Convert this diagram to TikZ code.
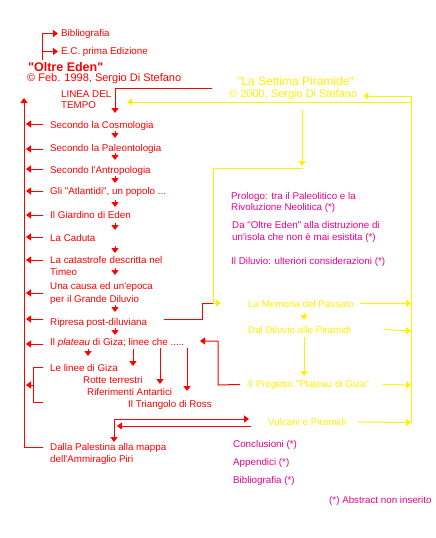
\documentclass[tikz,border=0pt]{standalone}
\usepackage{fontspec}
\setmainfont{Liberation Sans}[Ligatures=TeXOff]
\usetikzlibrary{arrows.meta}
\newcommand\fs{\fontsize{9.8}{12}\selectfont}
\newcommand\twol[3][12pt]{\vtop{\baselineskip=#1\hbox{#2}\hbox{#3}}}
\tikzset{
  t/.style={inner sep=0pt, anchor=base west, font=\fs},
  rt/.style={t, text=red},
  yt/.style={t, text=yellow},
  mt/.style={t, text=magenta},
  rl/.style={draw=red, line width=1pt},
  ra/.style={rl, -{Triangle[length=5pt,width=7pt]}},
  yl/.style={draw=yellow, line width=1pt},
  ya/.style={yl, -{Triangle[length=5pt,width=7pt]}},
}
\begin{document}
\begin{tikzpicture}[x=1pt,y=-1pt]
\useasboundingbox[fill=white] (0,0) rectangle (436,538);
% ---------- red (left) texts
\node[rt] (bib) at (61,36) {Bibliografia};
\node[rt] (ec) at (61,54) {E.C. prima Edizione};
\node[rt, font=\fontsize{12.5}{15}\selectfont\bfseries] (oe) at (28,71) {"Oltre Eden"};
\node[rt, font=\fontsize{11}{13}\selectfont] (cp1) at (27,81.5) {© Feb. 1998, Sergio Di Stefano};
\node[rt] (linea) at (61,97) {\twol[11pt]{LINEA DEL}{TEMPO}};
\node[rt] (c1) at (50,128) {Secondo la Cosmologia};
\node[rt] (c2) at (50,151) {Secondo la Paleontologia};
\node[rt] (c3) at (50,173) {Secondo l'Antropologia};
\node[rt] (c4) at (50,194) {Gli "Atlantidi", un popolo ...};
\node[rt] (c5) at (50,218) {Il Giardino di Eden};
\node[rt] (c6) at (50,241) {La Caduta};
\node[rt] (c7) at (50,263) {\twol{La catastrofe descritta nel}{Timeo}};
\node[rt] (c8) at (50,289) {\twol[13pt]{Una causa ed un'epoca}{per il Grande Diluvio}};
\node[rt] (c9) at (50,325) {Ripresa post-diluviana};
\node[rt] (c10) at (50,345) {Il \textit{plateau} di Giza; linee che .....};
\node[rt] (l1) at (50,371) {Le linee di Giza};
\node[rt] (l2) at (83,383) {Rotte terrestri};
\node[rt] (l3) at (87,395) {Riferimenti Antartici};
\node[rt] (l4) at (128,407) {Il Triangolo di Ross};
\node[rt] (pal) at (50,450) {\twol{Dalla Palestina alla mappa}{dell'Ammiraglio Piri}};
% ---------- yellow / magenta (right) texts
\node[yt, font=\fontsize{12}{14}\selectfont] (sp) at (237,85.5) {"La Settima Piramide"};
\node[yt, font=\fontsize{11}{13}\selectfont] (cp2) at (229,97.5) {© 2000, Sergio Di Stefano};
\node[mt] (m1) at (231,199) {\twol[11.5pt]{Prologo: tra il Paleolitico e la}{Rivoluzione Neolitica (*)}};
\node[mt] (m2) at (232,228) {\twol[12.5pt]{Da "Oltre Eden" alla distruzione di}{un'isola che non è mai esistita (*)}};
\node[mt] (m3) at (231,264.5) {Il Diluvio: ulteriori considerazioni (*)};
\node[yt] (y1) at (248,307) {La Memoria del Passato};
\node[yt] (y2) at (248,333) {Dal Diluvio alle Piramidi};
\node[yt] (y3) at (248,387) {Il Progetto "Plateau di Giza"};
\node[yt] (y4) at (268,425.5) {Vulcani e Piramidi};
\node[mt] (m4) at (233,447) {Conclusioni (*)};
\node[mt] (m5) at (233,465.5) {Appendici (*)};
\node[mt] (m6) at (233,483.5) {Bibliografia (*)};
\node[mt] (m7) at (329,503) {(*) Abstract non inserito};
% ---------- coordinates
\coordinate (tl) at (42,60);
\coordinate (lt) at (212,88);
\coordinate (trunk) at (24,98);
\coordinate (bus) at (411,96);
% ---------- red connectors, top
\draw[ra] (tl) |- ([xshift=-3pt]bib.west);
\draw[ra] (tl |- ec.west) -- ([xshift=-3pt]ec.west);
\draw[ra] (lt) -| (115,113);
% trunk
\draw[ra] ([shift={(-7,-3)}]pal.base west) -| (trunk);
\draw[ra] ([shift={(-7,-4)}]c1.base west) -- ++(-17,0);
\draw[ra] ([shift={(-7,-2)}]c2.base west) -- ++(-17,0);
\draw[ra] ([shift={(-7,-4)}]c3.base west) -- ++(-17,0);
\draw[ra] ([shift={(-7,-3)}]c4.base west) -- ++(-17,0);
\draw[ra] ([shift={(-7,-3)}]c5.base west) -- ++(-17,0);
\draw[ra] ([shift={(-7,-4)}]c6.base west) -- ++(-17,0);
\draw[ra] ([shift={(-7,-3)}]c7.base west) -- ++(-17,0);
\draw[ra] ([shift={(-7,4)}]c8.base west) -- ++(-17,0);
\draw[ra] ([shift={(-7,-6)}]c9.base west) -- ++(-17,0);
\draw[ra] ([shift={(-7,-1)}]c10.base west) -- ++(-17,0);
% bracket
\draw[rl] ([shift={(-7,-4)}]l1.base west) -| (33,402) -- (43,402);
\draw[ra] (33,385) -- (26,385);
% small arrows down the column
\draw[ra] (115,131) -- (115,138);
\draw[ra] (115,153) -- (115,160);
\draw[ra] (115,176) -- (115,183);
\draw[ra] (115,200) -- (115,207);
\draw[ra] (115,223) -- (115,230);
\draw[ra] (115,246) -- (115,253);
\draw[ra] (115,268) -- (115,275);
\draw[ra] (115,305) -- (115,312);
\draw[ra] (115,328) -- (115,335);
% under plateau
\draw[ra] (88,349) -- (88,356);
\draw[ra] (133,349) -- (133,366);
\draw[ra] (160,348) -- (160,384);
\draw[ra] (187,348) -- (187,391);
% ripresa to memoria
\draw[rl] ([shift={(17,-6)}]c9.base east) -- (202,319) -- (202,303) -- (213,303);
% progetto back to plateau
\draw[ra] ([xshift=-8pt]y3.west) -- (218,385) -- (218,341) -- (200,341);
% bottom
\draw[ra, {Triangle[length=5pt,width=7pt]}-{Triangle[length=5pt,width=7pt]}] ([shift={(64,-8)}]pal.base west) |- ([shift={(-19,-6.5)}]y4.base west);
\draw[ra] ([shift={(-17,0.5)}]y4.base west) -- (117,426);
% ---------- yellow connectors
\draw[yl] (411,423) -- (bus);
\draw[ya] (bus) -- ([shift={(6,-1.5)}]cp2.base east);
\draw[ya] (411,102) -- (127,102);
\draw[ya] ([xshift=6pt]y1.east) -- (411,303.5);
\draw[ya] ([xshift=32pt]y2.east) -- (411,331);
\draw[ya] ([xshift=14pt]y3.east) -- (411,385);
\draw[ya] ([xshift=12pt]y4.east) -- (411,422.5);
\draw[ya] (302,110) -- (302,166);
\draw[ya] (303,168) -| (213,303) -- (221,303);
\draw[ya] (304,313) -- (304,320);
\draw[ya] (304,337) -- (304,376);
\end{tikzpicture}
\end{document}
